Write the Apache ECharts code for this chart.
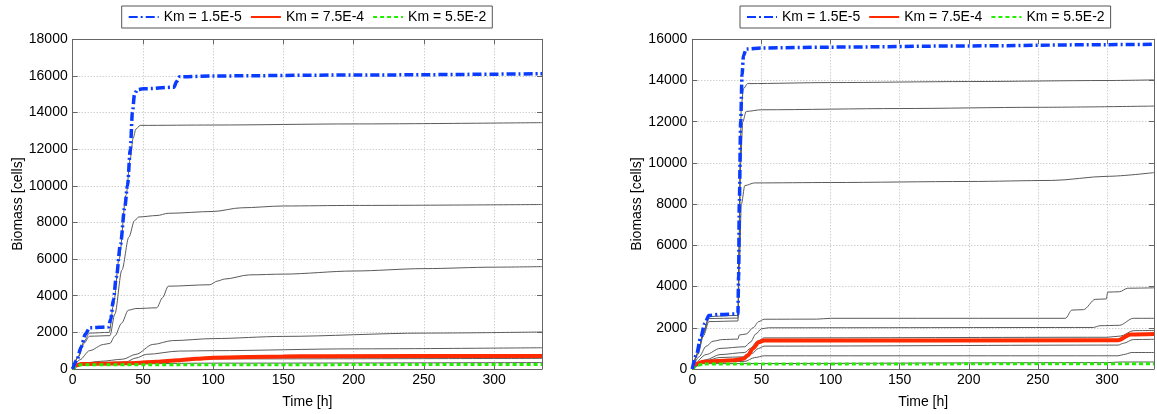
<!DOCTYPE html>
<html>
<head>
<meta charset="utf-8">
<script src="https://cdn.jsdelivr.net/npm/echarts@6/dist/echarts.min.js"></script>
<style>
html,body{margin:0;padding:0;background:#fff;}
#chart{width:1157px;height:414px;}
</style>
</head>
<body>
<div id="chart"></div>
<script>
// ---------- data ----------
const legendNames = ['Km = 1.5E-5', 'Km = 7.5E-4', 'Km = 5.5E-2'];
const xLabelName = 'Time [h]';
const yLabelName = 'Biomass [cells]';
const xMax = 334;
const leftYMax = 18000;
const rightYMax = 16000;

// Left panel [time h, biomass cells]
const leftBlue = [[0,0],[3,500],[6,1200],[9,1900],[12,2250],[25.5,2300],[27,2700],[29,3800],[31,5000],[34,6800],[37,8800],[39,10000],[41,12000],[42.5,14000],[44,15000],[46,15250],[50,15300],[72,15380],[74,15700],[76,15950],[100,16000],[200,16050],[334,16120]];
const leftRed = [[0,0],[3,200],[6,270],[30,300],[45,330],[60,400],[75,480],[88,560],[100,620],[150,680],[175,700],[334,710]];
const leftGreen = [[0,0],[3,170],[6,230],[334,250]];
const leftGray1 = [[0,0],[4,700],[8,1500],[12,1960],[26,2000],[29,3500],[33,6000],[38,9500],[41,11500],[43,12600],[45,13100],[48,13300],[100,13320],[200,13380],[334,13450]];
const leftGray2 = [[0,0],[4,650],[8,1400],[12,1790],[26.5,1820],[30,3000],[35,5400],[40,7200],[44,8100],[47,8300],[60,8380],[68,8500],[100,8600],[120,8800],[150,8900],[200,8930],[334,8980]];
const leftGray3 = [[0,0],[5,500],[12,1000],[22,1340],[26.5,1400],[30,1800],[34.8,2500],[39.6,3210],[45,3300],[59.8,3340],[64,3900],[68,4520],[97.6,4600],[103,4800],[108,4910],[126,5140],[150,5180],[200,5350],[250,5480],[300,5560],[334,5590]];
const leftGray4 = [[0,0],[6,300],[20,420],[35.6,535],[45,800],[57,1340],[71,1550],[100,1660],[150,1780],[250,1960],[334,2020]];
const leftGray5 = [[0,0],[6,280],[38,390],[45,600],[52.6,800],[76,980],[100,1000],[200,1100],[334,1160]];
const leftGray6 = [[0,0],[6,250],[50,330],[60,420],[90,550],[334,580]];
const leftGray7 = [[0,0],[6,250],[100,320],[334,350]];

// Right panel [time h, biomass cells]
const rightBlue = [[0,0],[3,700],[6,1500],[9,2200],[12,2600],[20,2650],[33,2670],[33.5,4500],[34,8000],[35,12000],[36,14300],[37,15200],[39,15530],[50,15580],[100,15620],[200,15680],[300,15740],[334,15760]];
const rightRed = [[0,0],[3,250],[8,350],[30,420],[37,500],[40,650],[44,1000],[48,1300],[52,1380],[300,1390],[308,1400],[317,1680],[334,1700]];
const rightGreen = [[0,0],[4,180],[8,240],[334,260]];
const rightGray1 = [[0,0],[4,800],[8,1800],[12,2550],[33,2600],[33.8,6000],[34.5,10000],[35.5,12800],[37,13600],[40,13850],[100,13900],[200,13950],[300,14000],[334,14030]];
const rightGray2 = [[0,0],[4,750],[8,1700],[12,2450],[33,2470],[34,6000],[35,10000],[36.5,12000],[39,12500],[50,12580],[150,12640],[250,12700],[334,12760]];
const rightGray3 = [[0,0],[4,700],[8,1600],[12,2300],[33,2330],[34,5000],[35.5,8000],[38,8900],[45,9030],[100,9050],[200,9100],[260,9150],[300,9350],[334,9530]];
const rightGray4 = [[0,0],[5,600],[10,1100],[15,1350],[22,1430],[33,1450],[34,1650],[39,1700],[44,2000],[48,2300],[52,2415],[90,2420],[100,2460],[270,2460],[274.6,2860],[283,2880],[291.5,3380],[299.5,3400],[300.5,3730],[309,3750],[315,3920],[334,3940]];
const rightGray5 = [[0,0],[10,700],[20,1000],[38,1080],[42,1300],[46,1700],[50,1950],[55,2000],[290,2015],[295,2100],[309,2120],[319,2460],[334,2460]];
const rightGray6 = [[0,0],[10,450],[20,700],[38,800],[42,1000],[47,1350],[52,1510],[300,1540],[310,1600],[319,1860],[334,1870]];
const rightGray7 = [[0,0],[10,400],[20,560],[38,590],[43,750],[48,1000],[52,1110],[308,1160],[312,1250],[319,1430],[334,1440]];
const rightGray8 = [[0,0],[8,330],[38,370],[45,550],[52,640],[308,640],[312,700],[318,800],[334,800]];
const rightGray9 = [[0,0],[8,260],[300,310],[310,340],[334,340]];

const leftGrays = [leftGray1, leftGray2, leftGray3, leftGray4, leftGray5, leftGray6, leftGray7];
const rightGrays = [rightGray1, rightGray2, rightGray3, rightGray4, rightGray5, rightGray6, rightGray7, rightGray8, rightGray9];

// ---------- chart ----------
const FONT = 'Liberation Sans, Arial, Helvetica, sans-serif';
const BLUE = '#0a3cff', RED = '#ff2a00', GREEN = '#22ee00', GRAY = '#5a5a5a';
const chart = echarts.init(document.getElementById('chart'), null, {renderer: 'canvas'});

const gridL = {left: 72.7, top: 39.3, width: 469.3, height: 335.7};
const gridR = {left: 692.3, top: 39.3, width: 469.3, height: 335.7};

function mainX(gi) {
  return {
    type: 'value', gridIndex: gi, min: 0, max: xMax, interval: 50, position: 'bottom',
    name: xLabelName, nameLocation: 'middle', nameGap: 26,
    nameTextStyle: {color: '#000', fontSize: 14, fontFamily: FONT},
    axisLine: {show: true, onZero: false, lineStyle: {color: '#666'}},
    axisTick: {show: true, inside: true, length: 5, lineStyle: {color: '#666'}},
    axisLabel: {color: '#000', fontSize: 14, fontFamily: FONT, margin: 4,
      formatter: v => (v % 50 === 0 ? String(v) : '')},
    splitLine: {show: true, lineStyle: {color: '#bbb', type: [1, 2]}}
  };
}
function topX(gi) {
  return {
    type: 'value', gridIndex: gi, min: 0, max: xMax, interval: 50, position: 'top',
    axisLine: {show: true, onZero: false, lineStyle: {color: '#666'}},
    axisTick: {show: true, inside: true, length: 5, lineStyle: {color: '#666'}},
    axisLabel: {show: false}, splitLine: {show: false}
  };
}
function mainY(gi, max) {
  return {
    type: 'value', gridIndex: gi, min: 0, max: max, interval: 2000, position: 'left',
    name: yLabelName, nameLocation: 'middle', nameGap: 48,
    nameTextStyle: {color: '#000', fontSize: 14, fontFamily: FONT},
    axisLine: {show: true, onZero: false, lineStyle: {color: '#666'}},
    axisTick: {show: true, inside: true, length: 5, lineStyle: {color: '#666'}},
    axisLabel: {color: '#000', fontSize: 14, fontFamily: FONT, margin: 5, formatter: v => String(v)},
    splitLine: {show: true, lineStyle: {color: '#bbb', type: [1, 2]}}
  };
}
function rightY(gi, max) {
  return {
    type: 'value', gridIndex: gi, min: 0, max: max, interval: 2000, position: 'right',
    axisLine: {show: true, onZero: false, lineStyle: {color: '#666'}},
    axisTick: {show: true, inside: true, length: 5, lineStyle: {color: '#666'}},
    axisLabel: {show: false}, splitLine: {show: false}
  };
}

const series = [];
function addGray(data, xi, yi) {
  series.push({type: 'line', xAxisIndex: xi, yAxisIndex: yi, data: data, symbol: 'none',
    smooth: 0.3, smoothMonotone: 'x', silent: true, z: 2,
    lineStyle: {color: GRAY, width: 1}});
}
function addMain(name, data, xi, yi, color, width, type, z) {
  series.push({type: 'line', name: name, xAxisIndex: xi, yAxisIndex: yi, data: data, symbol: 'none',
    smooth: 0.3, smoothMonotone: 'x', z: z, color: color,
    lineStyle: {color: color, width: width, type: type}});
}
leftGrays.forEach(d => addGray(d, 0, 0));
rightGrays.forEach(d => addGray(d, 1, 1));
addMain(legendNames[1], leftRed, 0, 0, RED, 4, 'solid', 3);
addMain(legendNames[2], leftGreen, 0, 0, GREEN, 3, [4, 3], 4);
addMain(legendNames[0], leftBlue, 0, 0, BLUE, 3.5, [9, 3, 2, 3], 5);
addMain(legendNames[1], rightRed, 1, 1, RED, 4, 'solid', 3);
addMain(legendNames[2], rightGreen, 1, 1, GREEN, 3, [4, 3], 4);
addMain(legendNames[0], rightBlue, 1, 1, BLUE, 3.5, [9, 3, 2, 3], 5);

function legendAt(left) {
  return {
    data: legendNames, left: left, top: 6, orient: 'horizontal',
    padding: [4, 6, 4, 6], itemWidth: 30, itemHeight: 14, itemGap: 8,
    borderColor: '#555', borderWidth: 1, backgroundColor: '#fff',
    itemStyle: {opacity: 0},
    textStyle: {color: '#000', fontSize: 14, fontFamily: FONT},
    selectedMode: false
  };
}

chart.setOption({
  animation: false,
  backgroundColor: '#fff',
  legend: [legendAt(121.7), legendAt(740)],
  grid: [
    Object.assign({show: false}, gridL),
    Object.assign({show: false}, gridR)
  ],
  xAxis: [mainX(0), mainX(1), topX(0), topX(1)],
  yAxis: [mainY(0, leftYMax), mainY(1, rightYMax), rightY(0, leftYMax), rightY(1, rightYMax)],
  series: series
});
</script>
</body>
</html>
